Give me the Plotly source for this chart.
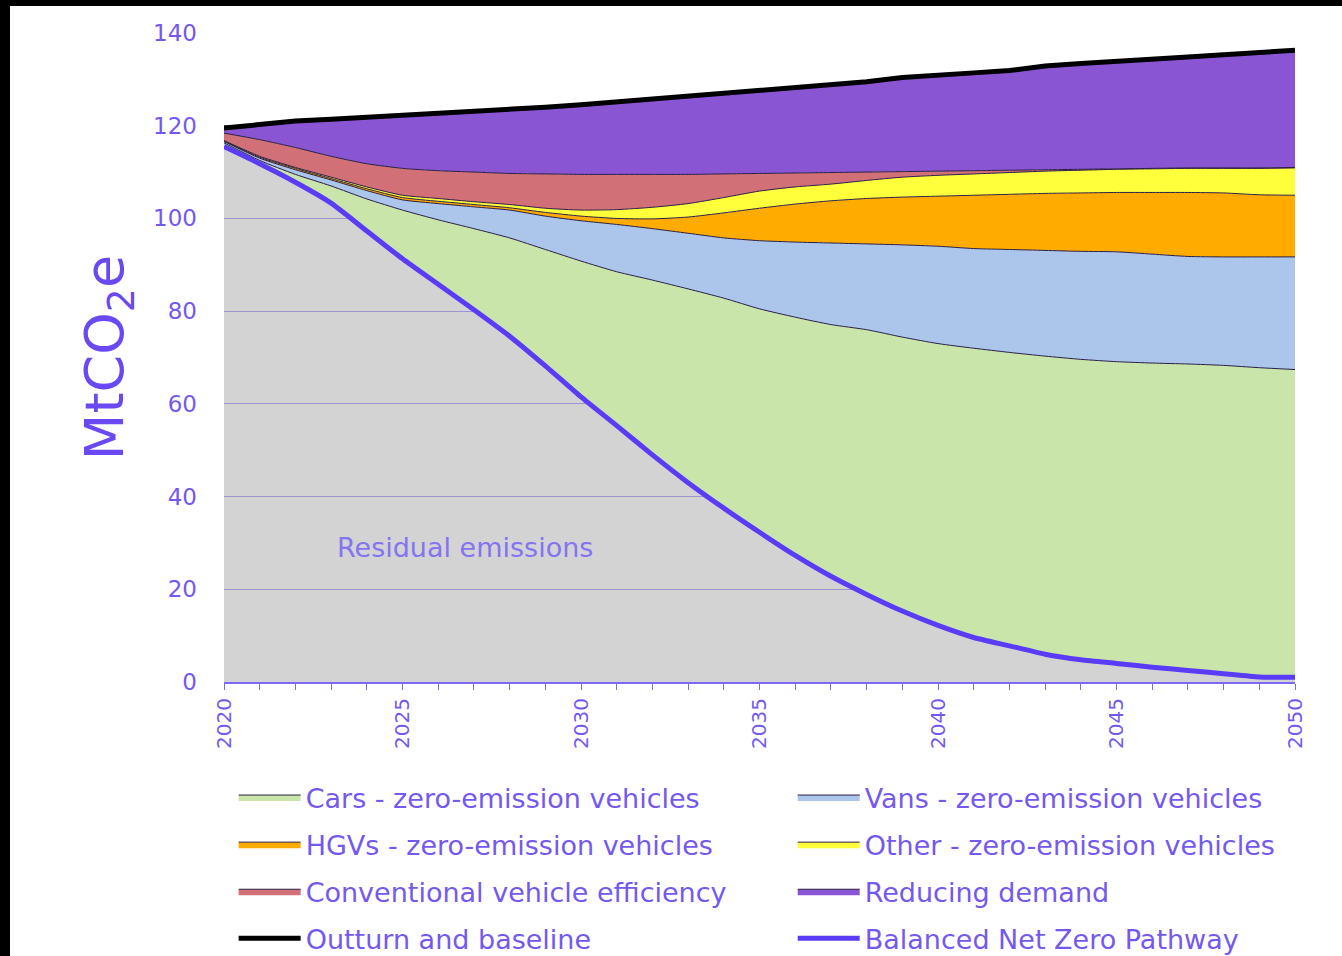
import plotly.graph_objects as go

years = list(range(2020, 2051))

# Segment thicknesses of the stacked areas (MtCO2e)
residual = [115.5, 111.8, 107.8, 103.3, 97.3, 91.3, 85.8, 80.3, 74.6, 68.2,
            61.5, 55.3, 49.0, 43.0, 37.5, 32.3, 27.3, 22.8, 18.9, 15.3,
            12.2, 9.6, 7.8, 6.0, 4.8, 4.0, 3.2, 2.5, 1.8, 1.1, 1.0]
cars = [0.8, 0.7, 1.7, 3.7, 6.9, 10.5, 13.9, 17.5, 21.2, 25.1,
        29.3, 33.2, 37.7, 41.8, 45.3, 48.2, 51.4, 54.3, 57.1, 59.1,
        60.8, 62.4, 63.3, 64.3, 64.8, 65.1, 65.6, 66.1, 66.5, 66.7, 66.4]
vans = [0.3, 0.5, 1.0, 1.3, 1.8, 2.2, 3.5, 4.7, 6.0, 7.2,
        8.7, 10.2, 11.1, 12.0, 13.0, 14.7, 16.2, 17.6, 18.5, 19.9,
        21.0, 21.5, 22.2, 22.8, 23.3, 23.7, 23.5, 23.2, 23.4, 23.9, 24.3]
hgvs = [0.1, 0.2, 0.3, 0.3, 0.4, 0.5, 0.5, 0.5, 0.5, 0.8,
        1.0, 1.3, 2.1, 3.5, 5.4, 7.0, 8.2, 9.1, 9.8, 10.3,
        10.8, 11.5, 11.9, 12.3, 12.6, 12.8, 13.3, 13.8, 13.8, 13.4, 13.3]
other = [0.1, 0.2, 0.2, 0.3, 0.4, 0.5, 0.6, 0.6, 0.7, 0.9,
         1.3, 1.9, 2.5, 2.9, 3.3, 3.7, 3.7, 3.6, 3.9, 4.3,
         4.5, 4.6, 4.7, 4.8, 4.9, 5.0, 5.1, 5.2, 5.3, 5.7, 5.9]
conventional = [1.6, 3.6, 4.3, 4.5, 5.0, 5.8, 6.0, 6.4, 6.7, 7.4,
                7.7, 7.6, 7.1, 6.3, 5.1, 3.8, 3.0, 2.5, 1.8, 1.2,
                0.9, 0.7, 0.5, 0.3, 0.2, 0.1, 0.1, 0.1, 0.1, 0.1, 0.1]
demand = [1.1, 3.3, 5.7, 8.0, 10.0, 11.5, 12.5, 13.2, 13.9, 14.4,
          15.0, 15.6, 16.2, 16.8, 17.3, 17.9, 18.5, 19.0, 19.5, 20.3,
          20.8, 21.1, 21.5, 22.4, 22.8, 23.1, 23.5, 23.9, 24.4, 24.9, 25.3]
baseline = [119.5, 120.3, 121.0, 121.4, 121.8, 122.3, 122.8, 123.2, 123.6, 124.0,
            124.5, 125.1, 125.7, 126.3, 126.9, 127.6, 128.3, 128.9, 129.5, 130.4,
            131.0, 131.4, 131.9, 132.9, 133.4, 133.8, 134.3, 134.8, 135.3, 135.8, 136.3]
pathway = residual

y_ticks = [0, 20, 40, 60, 80, 100, 120, 140]
x_ticks = [2020, 2025, 2030, 2035, 2040, 2045, 2050]

FONT = "DejaVu Sans"
TXT = "#7458f0"
EDGE = "#2a1f45"
SMOOTH = 0.6

fig = go.Figure()

fig.add_trace(go.Scatter(x=years, y=residual, stackgroup="s", mode="lines",
                         line=dict(width=0, shape="spline", smoothing=SMOOTH),
                         fillcolor="rgba(168,168,168,0.5)",
                         showlegend=False, name="Residual emissions"))

stack = [
    ("Cars - zero-emission vehicles", cars, "#cae5a9", "legend"),
    ("Vans - zero-emission vehicles", vans, "#abc5eb", "legend2"),
    ("HGVs - zero-emission vehicles", hgvs, "#ffab00", "legend"),
    ("Other - zero-emission vehicles", other, "#ffff3c", "legend2"),
    ("Conventional vehicle efficiency", conventional, "#d27078", "legend"),
    ("Reducing demand", demand, "#8a55d2", "legend2"),
]
for i, (name, vals, col, lg) in enumerate(stack):
    fig.add_trace(go.Scatter(x=years, y=vals, stackgroup="s", mode="lines",
                             line=dict(width=1, color=EDGE, shape="spline",
                                       smoothing=SMOOTH),
                             fillcolor=col,
                             name=name, legend=lg, legendgroup=name))

fig.add_trace(go.Scatter(x=years, y=baseline, mode="lines",
                         line=dict(width=5, color="#000000"),
                         name="Outturn and baseline", legend="legend",
                         legendgroup="Outturn"))
fig.add_trace(go.Scatter(x=years, y=pathway, mode="lines",
                         line=dict(width=5, color="#5b3cf6", shape="spline",
                                   smoothing=SMOOTH),
                         name="Balanced Net Zero Pathway", legend="legend2",
                         legendgroup="BNZ"))

fig.add_annotation(x=2026.75, y=29, xref="x", yref="y", text="Residual emissions",
                   showarrow=False, font=dict(family=FONT, size=27, color="#8474f2"))

legend_common = dict(orientation="v", itemwidth=62, tracegroupgap=9,
                     font=dict(family=FONT, size=27, color=TXT),
                     bgcolor="rgba(0,0,0,0)", yanchor="top", xanchor="left",
                     traceorder="grouped")

fig.update_layout(
    width=1342, height=956, autosize=False,
    margin=dict(l=224, r=47, t=33, b=274, autoexpand=False),
    paper_bgcolor="white", plot_bgcolor="white",
    font=dict(family=FONT, color=TXT),
    legend=dict(x=0.009, y=-0.1402, **legend_common),
    legend2=dict(x=0.531, y=-0.1402, **legend_common),
    xaxis=dict(range=[2020, 2050], tickvals=x_ticks, ticks="outside", ticklen=6,
               tickwidth=1, tickcolor="#7a6af5", tickangle=-90,
               tickfont=dict(family=FONT, size=20, color=TXT),
               showline=True, linecolor="#7a6af5", linewidth=2,
               showgrid=False, zeroline=False,
               minor=dict(dtick=1, tick0=2020, ticks="outside", ticklen=6,
                          tickcolor="#7a6af5", showgrid=False)),
    yaxis=dict(range=[0, 140], tickvals=y_ticks, ticks="",
               tickfont=dict(family=FONT, size=23, color=TXT),
               ticklabelstandoff=26,
               showgrid=True, gridcolor="#8f84f2", gridwidth=1,
               zeroline=False, showline=False,
               title=dict(text="MtCO<sub>2</sub>e", standoff=12,
                          font=dict(family=FONT, size=54, color="#6a48f2"))),
)

# black frame edges of the original screenshot (top and left)
fig.add_shape(type="rect", xref="paper", yref="paper",
              x0=-224 / 1071, x1=-214 / 1071, y0=-274 / 649, y1=682 / 649,
              fillcolor="black", line=dict(width=0), layer="above")
fig.add_shape(type="rect", xref="paper", yref="paper",
              x0=-224 / 1071, x1=1118 / 1071, y0=676 / 649, y1=682 / 649,
              fillcolor="black", line=dict(width=0), layer="above")

fig.write_html("out.html",
               config={"responsive": False, "displayModeBar": False},
               post_script="document.body.style.margin='0';document.body.style.overflow='hidden';")
